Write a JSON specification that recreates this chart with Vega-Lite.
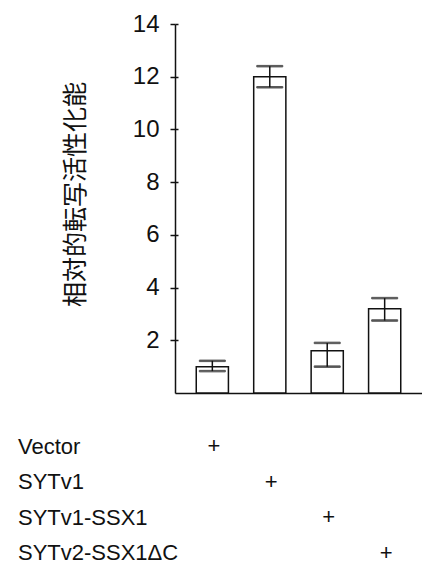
{
  "$schema": "https://vega.github.io/schema/vega-lite/v6.json",
  "padding": {"left": 17, "top": 12, "right": 0, "bottom": 0},
  "config": {
    "view": {"stroke": null},
    "font": "Liberation Sans",
    "axis": {"labelColor": "#111", "domainColor": "#111", "tickColor": "#111", "grid": false}
  },
  "data": {
    "values": [
      {"condition": "Vector", "value": 1.0, "lo": 0.83, "hi": 1.22},
      {"condition": "SYTv1", "value": 12.0, "lo": 11.6, "hi": 12.4},
      {"condition": "SYTv1-SSX1", "value": 1.6, "lo": 1.0, "hi": 1.9},
      {"condition": "SYTv2-SSX1ΔC", "value": 3.2, "lo": 2.75, "hi": 3.6}
    ]
  },
  "spacing": 41,
  "resolve": {"scale": {"x": "independent"}},
  "vconcat": [
    {
      "width": 247,
      "height": 369,
      "encoding": {
        "x": {
          "field": "condition", "type": "nominal", "sort": null,
          "scale": {"type": "band", "paddingInner": 0.44, "paddingOuter": 0.37},
          "axis": {"labels": false, "ticks": false, "title": null, "domainWidth": 1.5}
        }
      },
      "layer": [
        {
          "mark": {"type": "bar", "fill": "white", "stroke": "#111", "strokeWidth": 1.5},
          "encoding": {
            "y": {
              "field": "value", "type": "quantitative",
              "scale": {"domain": [0, 14], "nice": false},
              "axis": {
                "values": [2, 4, 6, 8, 10, 12, 14],
                "title": "相対的転写活性化能",
                "titleFont": "Noto Sans CJK JP",
                "titleFontSize": 25,
                "titleFontWeight": "normal",
                "titleColor": "#111",
                "titlePadding": 44,
                "titleY": 170,
                "labelFontSize": 24,
                "labelPadding": 11,
                "tickSize": 5,
                "tickWidth": 1.5,
                "domainWidth": 1.5
              }
            }
          }
        },
        {
          "mark": {"type": "rule", "stroke": "#111", "strokeWidth": 1.5},
          "encoding": {
            "y": {
              "field": "lo", "type": "quantitative",
              "axis": {"orient": "left", "values": [2, 4, 6, 8, 10, 12, 14], "labels": false, "domain": false, "title": null, "tickSize": -3, "tickWidth": 1.5}
            },
            "y2": {"field": "hi"}
          }
        },
        {
          "mark": {"type": "tick", "stroke": "#111", "color": "#111", "size": 26, "thickness": 1.5},
          "encoding": {"y": {"field": "lo", "type": "quantitative", "axis": null}}
        },
        {
          "mark": {"type": "tick", "stroke": "#111", "color": "#111", "size": 26, "thickness": 1.5},
          "encoding": {"y": {"field": "hi", "type": "quantitative", "axis": null}}
        }
      ],
      "resolve": {"axis": {"y": "independent"}}
    },
    {
      "width": 247,
      "height": 121,
      "mark": {"type": "text", "text": "+", "fontSize": 22, "color": "#111", "font": "Liberation Sans", "dx": 1.5},
      "encoding": {
        "x": {
          "field": "condition", "type": "nominal", "sort": null,
          "scale": {"type": "band", "paddingInner": 0.44, "paddingOuter": 0.37},
          "axis": null
        },
        "y": {
          "field": "condition", "type": "nominal", "sort": null,
          "scale": {"type": "point", "padding": 0.2},
          "axis": {
            "title": null, "domain": false, "ticks": false, "tickSize": 0,
            "labelAlign": "left", "labelPadding": 157.5, "labelFontSize": 22
          }
        }
      }
    }
  ]
}
